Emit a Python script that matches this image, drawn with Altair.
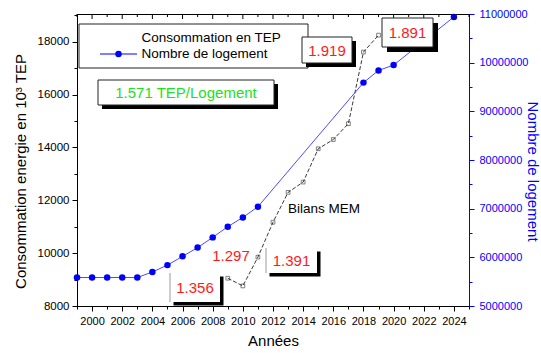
import altair as alt
import pandas as pd

# Housing stock (right axis)
log_years = [1999, 2000, 2001, 2002, 2003, 2004, 2005, 2006, 2007, 2008,
             2009, 2010, 2011, 2018, 2019, 2020, 2024]
log_counts = [5585000, 5585000, 5585000, 5585000, 5585000, 5700000, 5840000,
              6020000, 6200000, 6410000, 6630000, 6820000, 7040000, 9590000,
              9840000, 9950000, 10940000]

# Energy consumption from the MEM balances (left axis, 10^3 TEP)
mem_years = [2009, 2010, 2011, 2012, 2013, 2014, 2015, 2016, 2017, 2018, 2019]
mem_values = [9050, 8760, 9850, 11170, 12300, 12690, 13950, 14300, 14900, 17610, 18250]

# Text
ratio_texts = ["1.571 TEP/Logement", "1.919", "1.891", "1.356", "1.297", "1.391"]
legend_texts = ["Consommation en TEP", "Nombre de logement"]
series_note = "Bilans MEM"
x_title = "Années"
left_title = "Consommation energie en 10³ TEP"
right_title = "Nombre de logement"

FONT = "Liberation Sans"
W, H = 392, 292
OX, OY = 77, 14          # plot origin inside the page
BLUE = "#0000ff"
RED = "#ff1a1a"
GREEN = "#22e022"

one = pd.DataFrame({"k": [0]})
xscale = alt.Scale(domain=[1999, 2025], nice=False, zero=False)
x_axis = alt.Axis(
    orient="bottom",
    values=list(range(1999, 2026)),
    format="d",
    labelExpr="datum.value % 2 === 0 ? datum.label : ''",
    tickSize={"condition": {"test": "datum.value % 2 === 0", "value": 5}, "value": 3},
    labelFontSize=11, labelPadding=4,
    title=x_title, titleFontSize=15, titleFontWeight="normal", titlePadding=7,
)


def xenc():
    return alt.X("year:Q", scale=xscale, axis=x_axis)


def px(x):
    return x - OX


def py(y):
    return y - OY


def rect(x0, y0, x1, y1, fill, stroke=None, sw=1):
    kw = dict(fill=fill)
    if stroke:
        kw.update(stroke=stroke, strokeWidth=sw)
    else:
        kw.update(strokeWidth=0)
    return alt.Chart(one).mark_rect(**kw).encode(
        x=alt.value(px(x0)), x2=alt.value(px(x1)),
        y=alt.value(py(y0)), y2=alt.value(py(y1)))


def label(text, x, y, color, size, align="center"):
    return alt.Chart(one).mark_text(
        text=text, color=color, fontSize=size, font=FONT,
        align=align, baseline="middle").encode(
        x=alt.value(px(x)), y=alt.value(py(y)))


def vline(x, y0, y1, color, sw=1):
    return alt.Chart(one).mark_rule(color=color, strokeWidth=sw).encode(
        x=alt.value(px(x)), y=alt.value(py(y0)), y2=alt.value(py(y1)))


def framed_box(text, x0, y0, x1, y1, color, shadow=5):
    return [
        rect(x0 + shadow, y0 + shadow, x1 + shadow, y1 + shadow, "black"),
        rect(x0, y0, x1, y1, "white", "#222222", 1),
        label(text, (x0 + x1) / 2, (y0 + y1) / 2 + 0.5, color, 15),
    ]


def open_box(text, x0, y0, x1, y1, color, shadow=4):
    return [
        rect(x0 + shadow, y0 + shadow, x1 + shadow, y1 + shadow, "black"),
        rect(x0, y0, x1, y1, "white"),
        vline(x0, y0, y1, "#9a9a9a"),
        label(text, (x0 + x1) / 2, (y0 + y1) / 2 + 0.5, color, 15),
    ]


# ---- left axis series: dashed energy line ----
mem_df = pd.DataFrame({"year": mem_years, "tep": mem_values})
left_y = alt.Y(
    "tep:Q",
    scale=alt.Scale(domain=[8000, 19050], nice=False, zero=False),
    axis=alt.Axis(
        orient="left",
        values=list(range(8000, 19001, 1000)),
        format="d",
        labelExpr="datum.value % 2000 === 0 ? datum.label : ''",
        tickSize={"condition": {"test": "datum.value % 2000 === 0", "value": 5}, "value": 3},
        labelFontSize=11.5, labelPadding=3,
        title=left_title, titleFontSize=15, titleFontWeight="normal",
        titleX=px(20), titleY=py(171), titleBaseline="middle", titleAngle=270,
    ),
)
mem_line = alt.Chart(mem_df).mark_line(
    color="#222222", strokeWidth=0.9, strokeDash=[4, 2]
).encode(x=xenc(), y=left_y)
mem_marks = alt.Chart(mem_df).mark_point(
    shape="square", filled=False, color="#222222", size=14, strokeWidth=0.8
).encode(x=xenc(), y=left_y)
left = alt.layer(mem_line, mem_marks)

# ---- right axis series: housing count ----
log_df = pd.DataFrame({"year": log_years, "count": log_counts})
right_y = alt.Y(
    "count:Q",
    scale=alt.Scale(domain=[5000000, 11000000], nice=False, zero=False),
    axis=alt.Axis(
        orient="right",
        values=list(range(5000000, 11000001, 500000)),
        format="d",
        labelExpr="datum.value % 1000000 === 0 ? datum.label : ''",
        tickSize={"condition": {"test": "datum.value % 1000000 === 0", "value": 5}, "value": 3},
        labelFontSize=11, labelPadding=5, labelColor=BLUE,
        domainColor=BLUE, tickColor=BLUE,
        title=right_title, titleColor=BLUE, titleFontSize=15, titleFontWeight="normal",
        titleX=63, titleY=py(171), titleBaseline="middle", titleAngle=90,
    ),
)
log_line = alt.Chart(log_df).mark_line(color="#4a4aff", strokeWidth=1).encode(
    x=xenc(), y=right_y)
log_pts = alt.Chart(log_df).mark_circle(color=BLUE, size=42, opacity=1).encode(
    x=xenc(), y=right_y)
right = alt.layer(log_line, log_pts)

# ---- inward ticks along the top frame ----
tick_years = pd.DataFrame({"year": list(range(1999, 2026))})
top_major = alt.Chart(tick_years).transform_filter("datum.year % 2 === 0").mark_rule(
    color="black").encode(x=xenc(), y=alt.value(0), y2=alt.value(5))
top_minor = alt.Chart(tick_years).transform_filter("datum.year % 2 === 1").mark_rule(
    color="black").encode(x=xenc(), y=alt.value(0), y2=alt.value(3))

# ---- legend ----
legend = [
    rect(79, 24, 308, 68, "white", "#222222", 1),
    label(legend_texts[0], 141.5, 38, "black", 13.5, "left"),
    label(legend_texts[1], 141.5, 54, "black", 13.5, "left"),
    alt.Chart(one).mark_rule(color=BLUE, strokeWidth=1).encode(
        x=alt.value(px(100)), x2=alt.value(px(137)), y=alt.value(py(54))),
    alt.Chart(one).mark_circle(color=BLUE, size=42, opacity=1).encode(
        x=alt.value(px(118.5)), y=alt.value(py(54))),
]

# ---- ratio annotations ----
notes = []
notes += framed_box(ratio_texts[0], 98, 80, 274, 105, GREEN, 4)
notes += framed_box(ratio_texts[1], 302, 37, 352, 63, RED, 4)
notes += framed_box(ratio_texts[2], 382, 18, 433, 47, RED, 5)
notes += open_box(ratio_texts[3], 170, 273, 220, 302, RED, 3.5)
notes += [label(ratio_texts[4], 231, 256, RED, 15)]
notes += open_box(ratio_texts[5], 266, 248, 317, 273, RED, 3.5)
notes += [label(series_note, 288, 209, "black", 13.5, "left")]

data_layers = alt.layer(left, right).resolve_scale(y="independent")

chart = alt.layer(
    data_layers, top_major, top_minor, *legend, *notes
).properties(
    width=W, height=H,
    padding={"left": OX, "top": OY, "right": 541 - OX - W, "bottom": 353 - OY - H},
    autosize=alt.AutoSizeParams(type="none"),
).configure(
    font=FONT,
).configure_view(
    stroke="black", strokeWidth=1,
).configure_axis(
    grid=False, domainColor="black", tickColor="black", labelColor="black",
    titleColor="black", labelFont=FONT, titleFont=FONT, domainWidth=1, tickWidth=1,
)

chart.save("out.html", embed_options={"renderer": "svg", "actions": False})
